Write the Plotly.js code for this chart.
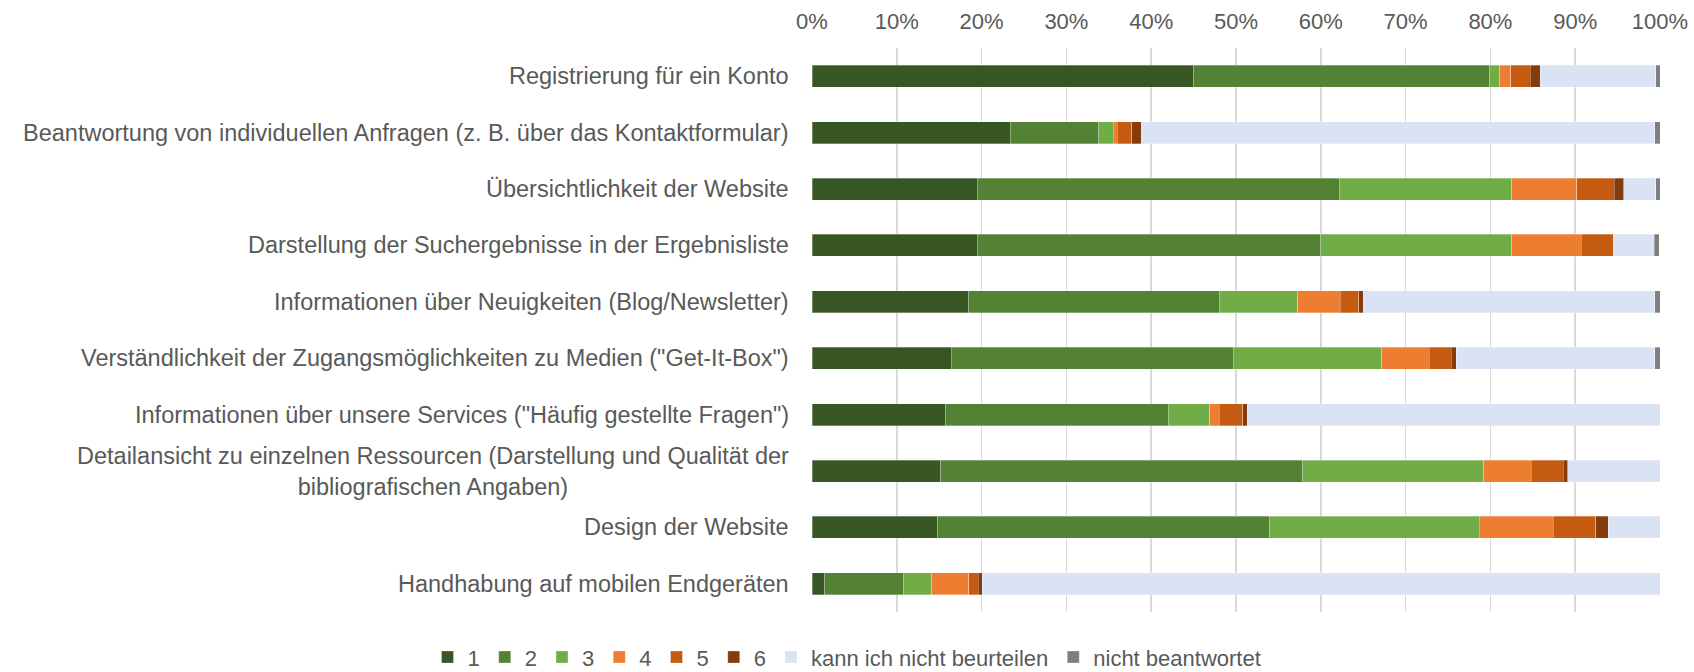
<!DOCTYPE html>
<html>
<head>
<meta charset="utf-8">
<script src="https://cdn.plot.ly/plotly-3.0.1.min.js"></script>
<style>
html, body { margin: 0; padding: 0; background: #ffffff; }
#chart { width: 1694px; height: 672px; }
</style>
</head>
<body>
<div id="chart"></div>
<script>
const categories = [
  "Registrierung für ein Konto",
  "Beantwortung von individuellen Anfragen (z. B. über das Kontaktformular)",
  "Übersichtlichkeit der Website",
  "Darstellung der Suchergebnisse in der Ergebnisliste",
  "Informationen über Neuigkeiten (Blog/Newsletter)",
  "Verständlichkeit der Zugangsmöglichkeiten zu Medien (\"Get-It-Box\")",
  "Informationen über unsere Services (\"Häufig gestellte Fragen\")",
  "Detailansicht zu einzelnen Ressourcen (Darstellung und Qualität der<br>bibliografischen Angaben)",
  "Design der Website",
  "Handhabung auf mobilen Endgeräten"
];

const seriesNames = ["1", "2", "3", "4", "5", "6", "kann ich nicht beurteilen", "nicht beantwortet"];

const grade1 = [45.0, 23.4, 19.5, 19.5, 18.5, 16.4, 15.8, 15.2, 14.8, 1.5];
const grade2 = [34.9, 10.4, 42.7, 40.5, 29.5, 33.3, 26.2, 42.7, 39.2, 9.3];
const grade3 = [1.2, 1.7, 20.3, 22.5, 9.3, 17.5, 4.9, 21.3, 24.7, 3.3];
const grade4 = [1.3, 0.5, 7.7, 8.2, 5.0, 5.6, 1.1, 5.6, 8.7, 4.4];
const grade5 = [2.3, 1.7, 4.4, 3.8, 2.2, 2.6, 2.8, 3.8, 5.0, 1.1];
const grade6 = [1.2, 1.1, 1.1, 0.0, 0.5, 0.6, 0.5, 0.5, 1.5, 0.5];
const cannotJudge = [13.6, 60.6, 3.8, 4.8, 34.4, 23.4, 48.7, 10.9, 6.1, 79.9];
const notAnswered = [0.6, 0.6, 0.6, 0.6, 0.6, 0.6, 0.0, 0.0, 0.0, 0.0];

const xTicks = [0, 10, 20, 30, 40, 50, 60, 70, 80, 90, 100];

const seriesValues = [grade1, grade2, grade3, grade4, grade5, grade6, cannotJudge, notAnswered];
const colors = ["#375623", "#548235", "#70AD47", "#ED7D31", "#C55A11", "#843C0C", "#DAE3F3", "#7F7F7F"];

const traces = seriesValues.map((vals, i) => ({
  type: "bar",
  orientation: "h",
  name: seriesNames[i],
  x: vals,
  y: categories,
  marker: { color: colors[i], line: { color: "rgba(255,255,255,0.6)", width: 0.5 } },
  hoverinfo: "skip"
}));

const textColor = "#595959";
const fam = "Liberation Sans, Arial, sans-serif";
const tickFont = { family: fam, size: 22, color: textColor };
const labelFont = { family: fam, size: 23.5, color: textColor };
const legendFont = { family: fam, size: 22, color: textColor };

const annotations = categories.map(c => ({
  xref: "paper", yref: "y",
  x: 0, y: c,
  xshift: -21,
  xanchor: "right", yanchor: "middle",
  align: "center",
  text: c,
  showarrow: false,
  font: labelFont
}));

const layout = {
  width: 1694, height: 672,
  margin: { l: 812, r: 34, t: 48, b: 60, autoexpand: false },
  paper_bgcolor: "#ffffff",
  plot_bgcolor: "#ffffff",
  barmode: "stack",
  bargap: 0.61,
  font: tickFont,
  showlegend: true,
  legend: {
    orientation: "h",
    xref: "container", yref: "container",
    x: 0.5, xanchor: "center",
    y: 0.022, yanchor: "middle",
    traceorder: "normal",
    font: legendFont,
    itemwidth: 30
  },
  xaxis: {
    side: "top",
    range: [0, 100],
    tickvals: xTicks,
    ticktext: xTicks.map(v => v + "%"),
    showgrid: true,
    gridcolor: "#D9D9D9",
    gridwidth: 1.5,
    zeroline: false,
    showline: false,
    ticks: "",
    ticklabelstandoff: 14,
    tickfont: tickFont,
    fixedrange: true
  },
  yaxis: {
    autorange: "reversed",
    showticklabels: false,
    showgrid: false,
    zeroline: false,
    showline: false,
    ticks: "",
    fixedrange: true
  },
  annotations: annotations
};

Plotly.newPlot("chart", traces, layout, { displayModeBar: false, staticPlot: true });
</script>
</body>
</html>
